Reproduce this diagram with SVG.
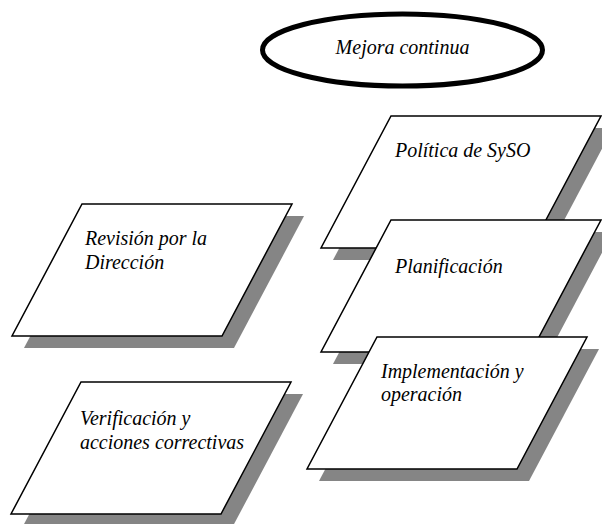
<svg xmlns="http://www.w3.org/2000/svg" width="602" height="524" viewBox="0 0 602 524">
<style>
.box{fill:#fff;stroke:#000;stroke-width:1.5}
.shadow{fill:#858585}
</style>
<rect width="602" height="524" fill="#fff"/>
<g id="mejora">
<ellipse cx="402.5" cy="50" rx="140" ry="36" fill="#fff" stroke="#000" stroke-width="5"/>
<text transform="scale(0.833333)" x="483" y="64.8" text-anchor="middle" font-family="Liberation Serif" font-style="italic" font-size="24">Mejora continua</text>
</g>
<g id="revision">
<polygon class="shadow" points="94,216 304,216 234,348 24,348"/>
<polygon class="box" points="82,204 292,204 222,336 12,336"/>
<text transform="scale(0.833333)" x="102" y="294" font-family="Liberation Serif" font-style="italic" font-size="24">Revisión por la</text>
<text transform="scale(0.833333)" x="102" y="322.8" font-family="Liberation Serif" font-style="italic" font-size="24">Dirección</text>
</g>
<g id="verificacion">
<polygon class="shadow" points="93,394 303,394 233,526 23,526"/>
<polygon class="box" points="81,382 291,382 221,514 11,514"/>
<text transform="scale(0.833333)" x="96" y="510" font-family="Liberation Serif" font-style="italic" font-size="24">Verificación y</text>
<text transform="scale(0.833333)" x="96" y="538.8" font-family="Liberation Serif" font-style="italic" font-size="24">acciones correctivas</text>
</g>
<g id="politica">
<polygon class="shadow" points="403,128 613,128 543,260 333,260"/>
<polygon class="box" points="391,116 601,116 531,248 321,248"/>
<text transform="scale(0.833333)" x="474" y="188.4" font-family="Liberation Serif" font-style="italic" font-size="24">Política de SySO</text>
</g>
<g id="planificacion">
<polygon class="shadow" points="403,232 613,232 543,364 333,364"/>
<polygon class="box" points="391,220 601,220 531,352 321,352"/>
<text transform="scale(0.833333)" x="474" y="327.6" font-family="Liberation Serif" font-style="italic" font-size="24">Planificación</text>
</g>
<g id="implementacion">
<polygon class="shadow" points="389,349 599,349 529,481 319,481"/>
<polygon class="box" points="377,337 587,337 517,469 307,469"/>
<text transform="scale(0.833333)" x="457.2" y="453.6" font-family="Liberation Serif" font-style="italic" font-size="24">Implementación y</text>
<text transform="scale(0.833333)" x="457.2" y="481.2" font-family="Liberation Serif" font-style="italic" font-size="24">operación</text>
</g>
</svg>
